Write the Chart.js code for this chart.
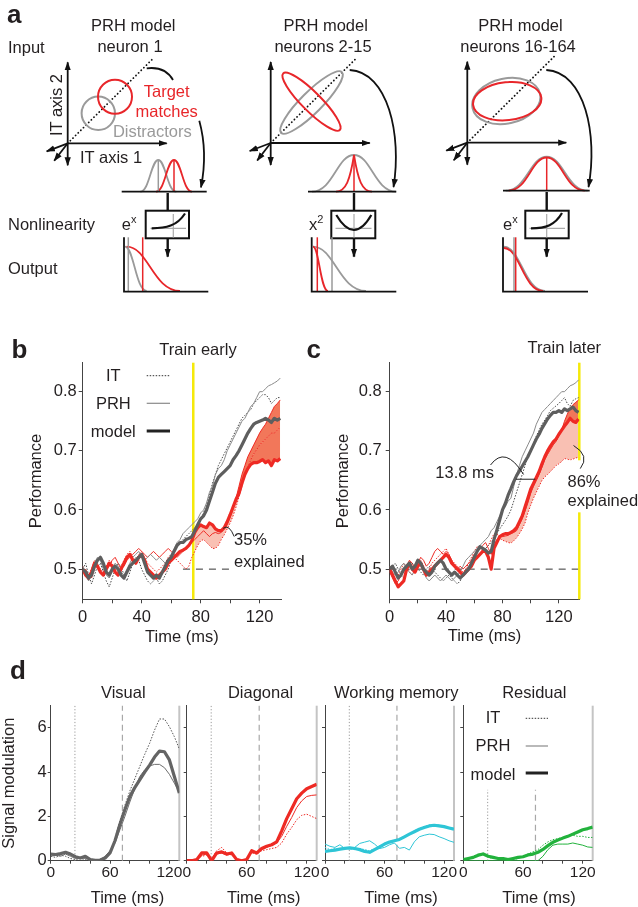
<!DOCTYPE html>
<html>
<head>
<meta charset="utf-8">
<script src="https://cdn.jsdelivr.net/npm/chart.js@4.4.1/dist/chart.umd.min.js"></script>
<style>
  html, body { margin: 0; padding: 0; background: #fff; }
  #page { position: relative; width: 638px; height: 907px; overflow: hidden; }
  #page canvas { position: absolute; }
  #art { position: absolute; left: 0; top: 0; pointer-events: none;
         font-family: "Liberation Sans", Arial, sans-serif; font-size: 16.5px; fill: #231f20; }
</style>
</head>
<body>
<div id="page">
  <canvas id="chartB" width="318" height="310" style="left:0;top:340px"></canvas>
  <canvas id="chartC" width="320" height="310" style="left:318px;top:340px"></canvas>
  <canvas id="chartVis" width="186" height="217" style="left:0;top:690px"></canvas>
  <canvas id="chartDiag" width="145" height="217" style="left:178px;top:690px"></canvas>
  <canvas id="chartWm" width="143" height="217" style="left:317px;top:690px"></canvas>
  <canvas id="chartRes" width="144" height="217" style="left:455px;top:690px"></canvas>

  <svg id="art" width="638" height="907" viewBox="0 0 638 907">
    <defs>
      <marker id="ah" viewBox="0 0 10 10" refX="9" refY="5" markerWidth="9" markerHeight="9"
              orient="auto-start-reverse" markerUnits="userSpaceOnUse">
        <path d="M0,1.5 L10,5 L0,8.5 z" fill="#111"/>
      </marker>
      <g id="axes3" stroke="#111" stroke-width="1.8" fill="none">
        <line x1="0" y1="22" x2="0" y2="-81" marker-start="url(#ah)" marker-end="url(#ah)"/>
        <line x1="0" y1="0" x2="99" y2="0" marker-end="url(#ah)"/>
        <line x1="0" y1="0" x2="-21" y2="8" marker-end="url(#ah)"/>
        <line x1="0" y1="0" x2="-13.5" y2="17.5" marker-end="url(#ah)"/>
      </g>
    </defs>

    <!-- panel letters -->
    <text x="7" y="23" font-size="26" font-weight="bold">a</text>
    <text x="11.5" y="358.3" font-size="26" font-weight="bold">b</text>
    <text x="306.5" y="358.3" font-size="26" font-weight="bold">c</text>
    <text x="10" y="679" font-size="26" font-weight="bold">d</text>

    <!-- panel a: row labels -->
    <text x="8" y="52.7">Input</text>
    <text x="8" y="230">Nonlinearity</text>
    <text x="8" y="274">Output</text>

    <!-- column 1 -->
    <text x="133.3" y="30.7" text-anchor="middle">PRH model</text>
    <text x="130" y="51.7" text-anchor="middle">neuron 1</text>
    <use href="#axes3" x="67.7" y="143.3"/>
    <line x1="67.7" y1="143.3" x2="153.3" y2="58.3" stroke="#111" stroke-width="1.8" stroke-dasharray="0.1 3.6" stroke-linecap="round"/>
    <circle cx="98.3" cy="113.3" r="16.7" fill="none" stroke="#9a9a9a" stroke-width="2"/>
    <circle cx="115" cy="96.7" r="17" fill="none" stroke="#e8262a" stroke-width="2"/>
    <text transform="translate(61.7,105) rotate(-90)" text-anchor="middle">IT axis 2</text>
    <text x="80" y="163.3">IT axis 1</text>
    <text x="166.7" y="96.5" text-anchor="middle" fill="#e8262a">Target</text>
    <text x="166.7" y="116.7" text-anchor="middle" fill="#e8262a">matches</text>
    <text x="152.3" y="136.7" text-anchor="middle" fill="#9a9a9a">Distractors</text>
    <path d="M146.7,68.3 Q165,66 173,80" fill="none" stroke="#111" stroke-width="1.8"/>
    <path d="M199.3,120.7 Q207.9,152 201,187.3" fill="none" stroke="#111" stroke-width="1.8" marker-end="url(#ah)"/>
    <path d="M140.3,191.7 C149.3,191.7 151.1,160 158.3,160 C165.5,160 167.3,191.7 176.3,191.7" fill="none" stroke="#9a9a9a" stroke-width="1.8"/>
    <path d="M156,191.7 C165,191.7 166.8,160 174,160 C181.2,160 183,191.7 192,191.7" fill="none" stroke="#e8262a" stroke-width="1.8"/>
    <line x1="158.3" y1="191.7" x2="158.3" y2="160" stroke="#9a9a9a" stroke-width="1.5"/>
    <line x1="174" y1="191.7" x2="174" y2="160" stroke="#e8262a" stroke-width="1.5"/>
    <line x1="121.7" y1="191.7" x2="206.7" y2="191.7" stroke="#111" stroke-width="1.8"/>
    <line x1="167.7" y1="193" x2="167.7" y2="210.7" stroke="#111" stroke-width="2.4"/>
    <rect x="145.7" y="210.7" width="43.3" height="27.6" fill="#fff" stroke="#111" stroke-width="2"/>
    <line x1="150.5" y1="228.3" x2="186" y2="228.3" stroke="#aaa" stroke-width="1.2"/>
    <line x1="173.3" y1="214" x2="173.3" y2="237.5" stroke="#aaa" stroke-width="1.2"/>
    <path d="M151.7,228.3 C166,228.3 177,226 185,213.5" fill="none" stroke="#111" stroke-width="2.2"/>
    <text x="121.7" y="230">e<tspan font-size="11" dy="-7">x</tspan></text>
    <line x1="167.7" y1="238.3" x2="167.7" y2="256.7" stroke="#111" stroke-width="2.4" marker-end="url(#ah)"/>
    <path d="M125,246.7 C133.7,246.7 135.9,291 146.7,291" fill="none" stroke="#9a9a9a" stroke-width="1.8"/>
    <path d="M126.7,246.7 C148,246.7 153.4,291 180,291" fill="none" stroke="#e8262a" stroke-width="1.8"/>
    <line x1="128.3" y1="291.7" x2="128.3" y2="237.3" stroke="#9a9a9a" stroke-width="1.5"/>
    <line x1="142.7" y1="291.7" x2="142.7" y2="237.3" stroke="#e8262a" stroke-width="1.5"/>
    <path d="M124,237.3 L124,291.7 L208.3,291.7" fill="none" stroke="#111" stroke-width="1.8"/>

    <!-- column 2 -->
    <text x="325.7" y="30.7" text-anchor="middle">PRH model</text>
    <text x="323" y="51.7" text-anchor="middle">neurons 2-15</text>
    <use href="#axes3" x="270.7" y="143"/>
    <line x1="270.7" y1="143" x2="356.3" y2="58.3" stroke="#111" stroke-width="1.8" stroke-dasharray="0.1 3.6" stroke-linecap="round"/>
    <ellipse cx="311.5" cy="102.5" rx="43" ry="10.5" transform="rotate(-45 311.5 102.5)" fill="none" stroke="#9a9a9a" stroke-width="2"/>
    <ellipse cx="311.5" cy="101.7" rx="40" ry="9.5" transform="rotate(45 311.5 101.7)" fill="none" stroke="#e8262a" stroke-width="2"/>
    <path d="M349.7,70 C388,72 402,135 393.5,187" fill="none" stroke="#111" stroke-width="1.8" marker-end="url(#ah)"/>
    <path d="M312,191.7 C333,191.7 337.2,155 354,155 C370.8,155 375,191.7 396,191.7" fill="none" stroke="#9a9a9a" stroke-width="1.8"/>
    <path d="M336,191.7 C346,191.2 350,180 354,155 C358,180 362,191.2 372,191.7" fill="none" stroke="#e8262a" stroke-width="1.8"/>
    <line x1="354" y1="191.7" x2="354" y2="155" stroke="#e8262a" stroke-width="1.5"/>
    <line x1="308" y1="191.7" x2="396.3" y2="191.7" stroke="#111" stroke-width="1.8"/>
    <line x1="354" y1="193" x2="354" y2="210.7" stroke="#111" stroke-width="2.4"/>
    <rect x="331.3" y="210.7" width="44" height="27.6" fill="#fff" stroke="#111" stroke-width="2"/>
    <line x1="335.5" y1="228.3" x2="371.5" y2="228.3" stroke="#aaa" stroke-width="1.2"/>
    <line x1="354" y1="214" x2="354" y2="237.5" stroke="#aaa" stroke-width="1.2"/>
    <path d="M336.3,215 Q354,245 371.3,215" fill="none" stroke="#111" stroke-width="2.2"/>
    <text x="309" y="230">x<tspan font-size="11" dy="-7">2</tspan></text>
    <line x1="354" y1="238.3" x2="354" y2="256.7" stroke="#111" stroke-width="2.4" marker-end="url(#ah)"/>
    <path d="M313,246.7 C334.2,246.7 339.5,291 366,291" fill="none" stroke="#9a9a9a" stroke-width="1.8"/>
    <path d="M313,246.7 C319,246.7 320.5,291 328,291" fill="none" stroke="#e8262a" stroke-width="1.8"/>
    <line x1="332" y1="291.7" x2="332" y2="237.3" stroke="#9a9a9a" stroke-width="1.5"/>
    <line x1="317.3" y1="291.7" x2="317.3" y2="237.3" stroke="#e8262a" stroke-width="1.5"/>
    <path d="M311.7,237.3 L311.7,291.7 L396.3,291.7" fill="none" stroke="#111" stroke-width="1.8"/>

    <!-- column 3 -->
    <text x="520.5" y="30.7" text-anchor="middle">PRH model</text>
    <text x="518" y="51.7" text-anchor="middle">neurons 16-164</text>
    <use href="#axes3" x="467.3" y="142.7"/>
    <line x1="467.3" y1="142.7" x2="554" y2="56.7" stroke="#111" stroke-width="1.8" stroke-dasharray="0.1 3.6" stroke-linecap="round"/>
    <ellipse cx="506.3" cy="101" rx="34.5" ry="22.5" transform="rotate(-12 506.3 101)" fill="none" stroke="#9a9a9a" stroke-width="2"/>
    <ellipse cx="507.2" cy="101.2" rx="34.3" ry="19" transform="rotate(-6 507.2 101.2)" fill="none" stroke="#e8262a" stroke-width="2"/>
    <path d="M546.3,70 C585,72 598,135 588.5,187" fill="none" stroke="#111" stroke-width="1.8" marker-end="url(#ah)"/>
    <path d="M505.7,190.7 C526.2,190.7 530.3,156.7 546.7,156.7 C563.1,156.7 567.2,190.7 587.7,190.7" fill="none" stroke="#9a9a9a" stroke-width="1.8"/>
    <path d="M508.7,190.7 C527.7,190.7 531.5,157.5 546.7,157.5 C561.9,157.5 565.7,190.7 584.7,190.7" fill="none" stroke="#e8262a" stroke-width="1.8"/>
    <line x1="546.7" y1="190.7" x2="546.7" y2="157.5" stroke="#e8262a" stroke-width="1.5"/>
    <line x1="503" y1="190.7" x2="589.7" y2="190.7" stroke="#111" stroke-width="1.8"/>
    <line x1="546.7" y1="192" x2="546.7" y2="210.7" stroke="#111" stroke-width="2.4"/>
    <rect x="525.3" y="210.7" width="43.4" height="27.6" fill="#fff" stroke="#111" stroke-width="2"/>
    <line x1="529.5" y1="228.3" x2="565" y2="228.3" stroke="#aaa" stroke-width="1.2"/>
    <line x1="546.7" y1="214" x2="546.7" y2="237.5" stroke="#aaa" stroke-width="1.2"/>
    <path d="M531,228.3 C546,228.3 555,225 562,213" fill="none" stroke="#111" stroke-width="2.2"/>
    <text x="503" y="230">e<tspan font-size="11" dy="-7">x</tspan></text>
    <line x1="546.7" y1="238.3" x2="546.7" y2="256.7" stroke="#111" stroke-width="2.4" marker-end="url(#ah)"/>
    <path d="M504,246.7 C520.4,246.7 524.5,291 545,291" fill="none" stroke="#9a9a9a" stroke-width="1.8"/>
    <path d="M504,248 C519.6,248 523.5,291 543,291" fill="none" stroke="#e8262a" stroke-width="1.8"/>
    <line x1="514" y1="291.7" x2="514" y2="237.3" stroke="#9a9a9a" stroke-width="1.5"/>
    <line x1="515.7" y1="291.7" x2="515.7" y2="237.3" stroke="#e8262a" stroke-width="1.5"/>
    <path d="M503,237.3 L503,291.7 L588,291.7" fill="none" stroke="#111" stroke-width="1.8"/>

    <!-- chart titles -->
    <text x="198" y="354.5" text-anchor="middle">Train early</text>
    <text x="564.3" y="353.3" text-anchor="middle">Train later</text>
    <text x="123.3" y="697.7" text-anchor="middle">Visual</text>
    <text x="260.5" y="697.7" text-anchor="middle">Diagonal</text>
    <text x="396.3" y="697.7" text-anchor="middle">Working memory</text>
    <text x="534.3" y="697.7" text-anchor="middle">Residual</text>
    <text x="127.5" y="903.3" text-anchor="middle">Time (ms)</text>
    <text x="263.8" y="903.3" text-anchor="middle">Time (ms)</text>
    <text x="401" y="903.3" text-anchor="middle">Time (ms)</text>
    <text x="539" y="903.3" text-anchor="middle">Time (ms)</text>
  </svg>
</div>

<script>
"use strict";

// ---------- panels b and c: decoding performance over time ----------
const timeBC = [0, 2, 4, 6, 8, 10, 12, 14, 16, 18, 20, 22, 24, 26, 28, 30, 32, 34, 36, 38,
  40, 42, 44, 46, 48, 50, 52, 54, 56, 58, 60, 62, 64, 66, 68, 70, 72, 74, 76, 78,
  80, 82, 84, 86, 88, 90, 92, 94, 96, 98, 100, 102, 104, 106, 108, 110, 112, 114, 116, 118,
  120, 122, 124, 126, 128, 130, 132, 134];

// train early (b)
const modelB = [0.500, 0.495, 0.485, 0.490, 0.505, 0.515, 0.520, 0.510, 0.495, 0.490,
  0.500, 0.505, 0.500, 0.490, 0.485, 0.495, 0.505, 0.510, 0.515, 0.520,
  0.525, 0.510, 0.495, 0.490, 0.485, 0.490, 0.485, 0.495, 0.505, 0.515,
  0.520, 0.530, 0.540, 0.545, 0.545, 0.550, 0.552, 0.555, 0.565, 0.575,
  0.585, 0.590, 0.600, 0.615, 0.630, 0.645, 0.655, 0.660, 0.665, 0.670,
  0.675, 0.685, 0.692, 0.700, 0.710, 0.720, 0.730, 0.738, 0.745, 0.748,
  0.750, 0.752, 0.755, 0.752, 0.748, 0.755, 0.752, 0.755];
const prhB = [0.505, 0.490, 0.480, 0.495, 0.510, 0.520, 0.515, 0.500, 0.490, 0.485,
  0.495, 0.510, 0.505, 0.495, 0.490, 0.500, 0.510, 0.520, 0.525, 0.530,
  0.520, 0.515, 0.520, 0.525, 0.520, 0.515, 0.520, 0.515, 0.510, 0.515,
  0.525, 0.535, 0.545, 0.550, 0.560, 0.565, 0.570, 0.575, 0.580, 0.585,
  0.595, 0.600, 0.612, 0.630, 0.640, 0.660, 0.670, 0.675, 0.685, 0.700,
  0.710, 0.720, 0.730, 0.740, 0.750, 0.755, 0.765, 0.775, 0.780, 0.790,
  0.800, 0.800, 0.805, 0.810, 0.812, 0.815, 0.818, 0.823];
const itB = [0.500, 0.510, 0.490, 0.475, 0.490, 0.505, 0.510, 0.495, 0.480, 0.470,
  0.485, 0.500, 0.510, 0.505, 0.490, 0.480, 0.495, 0.510, 0.520, 0.515,
  0.500, 0.490, 0.480, 0.475, 0.480, 0.485, 0.475, 0.480, 0.490, 0.500,
  0.515, 0.530, 0.540, 0.545, 0.550, 0.555, 0.560, 0.565, 0.570, 0.575,
  0.585, 0.595, 0.610, 0.625, 0.645, 0.660, 0.675, 0.685, 0.695, 0.705,
  0.715, 0.725, 0.735, 0.745, 0.755, 0.760, 0.765, 0.770, 0.780, 0.785,
  0.790, 0.795, 0.795, 0.790, 0.780, 0.785, 0.790, 0.790];
const redModelB = [0.500, 0.490, 0.485, 0.495, 0.510, 0.505, 0.495, 0.490, 0.500, 0.510,
  0.505, 0.495, 0.490, 0.500, 0.510, 0.520, 0.525, 0.515, 0.510, 0.520,
  0.525, 0.515, 0.500, 0.495, 0.490, 0.485, 0.490, 0.495, 0.500, 0.510,
  0.515, 0.520, 0.525, 0.530, 0.532, 0.535, 0.540, 0.548, 0.562, 0.570,
  0.575, 0.572, 0.570, 0.578, 0.575, 0.568, 0.565, 0.565, 0.570, 0.580,
  0.592, 0.605, 0.618, 0.628, 0.645, 0.660, 0.670, 0.677, 0.680, 0.680,
  0.682, 0.685, 0.680, 0.683, 0.675, 0.685, 0.683, 0.687];
const redItB = [0.505, 0.495, 0.490, 0.500, 0.515, 0.510, 0.500, 0.495, 0.505, 0.515,
  0.510, 0.500, 0.495, 0.505, 0.515, 0.525, 0.530, 0.520, 0.515, 0.525,
  0.530, 0.520, 0.510, 0.505, 0.500, 0.495, 0.500, 0.505, 0.510, 0.520,
  0.525, 0.520, 0.515, 0.510, 0.505, 0.500, 0.505, 0.520, 0.530, 0.540,
  0.548, 0.550, 0.545, 0.540, 0.535, 0.535, 0.540, 0.550, 0.558, 0.568,
  0.578, 0.590, 0.605, 0.622, 0.640, 0.658, 0.672, 0.685, 0.695, 0.702,
  0.710, 0.715, 0.720, 0.725, 0.730, 0.730, 0.735, 0.740];
const redPrhB = [0.495, 0.500, 0.490, 0.485, 0.500, 0.515, 0.520, 0.510, 0.500, 0.505,
  0.515, 0.520, 0.510, 0.500, 0.505, 0.515, 0.520, 0.525, 0.530, 0.535,
  0.530, 0.525, 0.520, 0.525, 0.530, 0.525, 0.520, 0.525, 0.530, 0.535,
  0.530, 0.525, 0.520, 0.525, 0.530, 0.535, 0.540, 0.545, 0.550, 0.555,
  0.560, 0.565, 0.560, 0.555, 0.560, 0.562, 0.560, 0.562, 0.568, 0.575,
  0.588, 0.602, 0.620, 0.640, 0.660, 0.675, 0.690, 0.700, 0.710, 0.720,
  0.730, 0.738, 0.745, 0.755, 0.765, 0.775, 0.780, 0.786];

// train later (c)
const modelC = [0.500, 0.505, 0.495, 0.485, 0.490, 0.500, 0.505, 0.510, 0.500, 0.505,
  0.515, 0.510, 0.500, 0.495, 0.490, 0.495, 0.505, 0.510, 0.515, 0.510,
  0.500, 0.495, 0.490, 0.495, 0.490, 0.485, 0.490, 0.495, 0.500, 0.510,
  0.520, 0.530, 0.538, 0.535, 0.532, 0.527, 0.530, 0.550, 0.566, 0.583,
  0.600, 0.611, 0.625, 0.636, 0.648, 0.658, 0.666, 0.674, 0.682, 0.690,
  0.700, 0.710, 0.720, 0.728, 0.738, 0.746, 0.754, 0.760, 0.765, 0.765,
  0.768, 0.765, 0.771, 0.768, 0.771, 0.774, 0.768, 0.765];
const prhC = [0.505, 0.495, 0.490, 0.495, 0.505, 0.510, 0.500, 0.495, 0.490, 0.500,
  0.510, 0.505, 0.495, 0.485, 0.480, 0.485, 0.490, 0.485, 0.480, 0.485,
  0.490, 0.485, 0.480, 0.485, 0.490, 0.495, 0.505, 0.515, 0.520, 0.525,
  0.530, 0.535, 0.540, 0.545, 0.550, 0.555, 0.565, 0.570, 0.580, 0.590,
  0.600, 0.605, 0.615, 0.620, 0.640, 0.660, 0.675, 0.690, 0.700, 0.710,
  0.720, 0.730, 0.745, 0.755, 0.765, 0.770, 0.775, 0.780, 0.785, 0.790,
  0.795, 0.800, 0.800, 0.805, 0.810, 0.812, 0.815, 0.820];
const itC = [0.495, 0.505, 0.510, 0.500, 0.490, 0.485, 0.495, 0.505, 0.510, 0.505,
  0.500, 0.495, 0.490, 0.500, 0.505, 0.500, 0.495, 0.490, 0.485, 0.480,
  0.485, 0.490, 0.485, 0.480, 0.475, 0.480, 0.490, 0.500, 0.505, 0.510,
  0.515, 0.520, 0.525, 0.530, 0.535, 0.540, 0.545, 0.552, 0.560, 0.568,
  0.575, 0.582, 0.590, 0.600, 0.615, 0.630, 0.645, 0.660, 0.675, 0.690,
  0.700, 0.712, 0.725, 0.735, 0.745, 0.752, 0.760, 0.768, 0.772, 0.776,
  0.780, 0.785, 0.790, 0.780, 0.775, 0.785, 0.788, 0.790];
const redModelC = [0.500, 0.490, 0.480, 0.470, 0.475, 0.480, 0.500, 0.510, 0.500, 0.495,
  0.505, 0.510, 0.500, 0.490, 0.495, 0.500, 0.505, 0.510, 0.515, 0.520,
  0.525, 0.520, 0.510, 0.505, 0.500, 0.495, 0.490, 0.495, 0.500, 0.505,
  0.515, 0.520, 0.525, 0.530, 0.530, 0.520, 0.500, 0.535, 0.545, 0.555,
  0.558, 0.560, 0.560, 0.562, 0.565, 0.570, 0.580, 0.590, 0.605, 0.620,
  0.635, 0.645, 0.655, 0.665, 0.678, 0.690, 0.700, 0.708, 0.715, 0.720,
  0.728, 0.735, 0.742, 0.748, 0.755, 0.750, 0.748, 0.754];
const redItC = [0.505, 0.500, 0.495, 0.490, 0.500, 0.510, 0.505, 0.495, 0.490, 0.500,
  0.510, 0.515, 0.505, 0.495, 0.500, 0.510, 0.515, 0.520, 0.525, 0.530,
  0.535, 0.525, 0.515, 0.510, 0.505, 0.500, 0.495, 0.500, 0.510, 0.520,
  0.530, 0.538, 0.535, 0.530, 0.535, 0.540, 0.550, 0.560, 0.560, 0.552,
  0.549, 0.547, 0.545, 0.544, 0.548, 0.553, 0.560, 0.568, 0.578, 0.595,
  0.608, 0.620, 0.630, 0.640, 0.650, 0.656, 0.660, 0.665, 0.670, 0.675,
  0.678, 0.682, 0.687, 0.686, 0.684, 0.686, 0.688, 0.689];
const redPrhC = [0.495, 0.485, 0.475, 0.480, 0.490, 0.495, 0.505, 0.515, 0.510, 0.500,
  0.510, 0.520, 0.515, 0.505, 0.510, 0.520, 0.530, 0.535, 0.530, 0.525,
  0.530, 0.525, 0.515, 0.505, 0.500, 0.505, 0.500, 0.505, 0.510, 0.515,
  0.525, 0.530, 0.535, 0.540, 0.545, 0.535, 0.525, 0.540, 0.550, 0.555,
  0.555, 0.556, 0.557, 0.560, 0.562, 0.565, 0.575, 0.585, 0.598, 0.612,
  0.628, 0.640, 0.650, 0.660, 0.672, 0.685, 0.694, 0.702, 0.710, 0.716,
  0.725, 0.735, 0.750, 0.762, 0.772, 0.778, 0.782, 0.786];

const perfTicks = [0.5, 0.6, 0.7, 0.8];
const timeTicksBC = [0, 20, 40, 60, 80, 100, 120];
const timeLabelsBC = [0, 40, 80, 120];
const trainTimeB = 75;
const trainTimeC = 134.5;
const fillFromB = 75;
const fillFromC = 76;
const chance = 0.5;
const chanceFromB = 68;
const seriesNames = ["IT", "PRH", "model"];

// ---------- panel d: signal modulation ----------
const timeD = [0, 5, 10, 15, 20, 25, 30, 35, 40, 45, 50, 55, 60, 65, 70, 75, 80, 85, 90, 95,
  100, 105, 110, 115, 120, 125, 130];
const visModel = [0.30, 0.28, 0.32, 0.38, 0.30, 0.18, 0.12, 0.20, 0.05, 0.02, 0.03, 0.12, 0.35, 0.90,
  1.65, 2.30, 2.90, 3.30, 3.65, 4.00, 4.32, 4.68, 4.95, 4.92, 4.55, 3.80, 3.05];
const visIt = [0.20, 0.15, 0.25, 0.20, 0.10, 0.05, 0.10, 0.05, 0.00, 0.05, 0.00, 0.10, 0.40, 1.00,
  1.80, 2.50, 3.15, 3.70, 4.25, 4.80, 5.30, 5.90, 6.40, 6.40, 6.05, 5.60, 5.05];
const visPrh = [0.20, 0.25, 0.20, 0.30, 0.20, 0.10, 0.15, 0.10, 0.05, 0.00, 0.05, 0.20, 0.45, 0.80,
  1.40, 2.00, 2.65, 3.25, 3.80, 4.10, 4.28, 4.35, 4.35, 4.20, 3.90, 3.50, 3.10];
const diagModel = [0.00, 0.00, 0.05, 0.35, 0.35, 0.00, 0.35, 0.40, 0.30, 0.35, 0.05, 0.00, 0.05, 0.45,
  0.35, 0.55, 0.65, 0.72, 0.85, 1.35, 1.90, 2.35, 2.80, 3.05, 3.25, 3.35, 3.45];
const diagPrh = [0.00, 0.00, 0.00, 0.25, 0.30, 0.05, 0.30, 0.35, 0.25, 0.30, 0.05, 0.00, 0.05, 0.40,
  0.35, 0.50, 0.60, 0.70, 0.80, 1.10, 1.55, 1.95, 2.40, 2.70, 2.90, 2.95, 2.97];
const diagIt = [0.00, 0.00, 0.00, 0.20, 0.25, 0.10, 0.45, 0.60, 0.35, 0.25, 0.10, 0.00, 0.10, 0.35,
  0.30, 0.45, 0.50, 0.55, 0.60, 0.80, 1.20, 1.50, 1.85, 2.05, 2.10, 2.00, 1.90];
const wmModel = [0.42, 0.45, 0.48, 0.52, 0.56, 0.58, 0.55, 0.50, 0.42, 0.38, 0.50, 0.62, 0.75, 0.84,
  0.90, 0.96, 1.08, 1.20, 1.31, 1.42, 1.50, 1.57, 1.60, 1.57, 1.54, 1.48, 1.42];
const wmPrh = [0.75, 0.65, 0.60, 0.72, 0.55, 0.55, 0.60, 0.78, 0.84, 0.90, 0.75, 0.55, 0.60, 0.72,
  0.80, 0.56, 0.60, 0.48, 0.85, 1.08, 1.15, 1.20, 1.18, 1.08, 1.00, 0.90, 0.83];
const wmIt = [0.60, 0.50, 0.55, 0.50, 0.60, 0.55, 0.50, 0.55, 0.50, 0.45, 0.55, 0.65, 0.78, 0.86,
  0.92, 1.00, 1.10, 1.22, 1.35, 1.45, 1.55, 1.60, 1.63, 1.60, 1.55, 1.50, 1.45];
const resModel = [0.05, 0.10, 0.15, 0.25, 0.30, 0.20, 0.15, 0.10, 0.10, 0.05, 0.10, 0.15, 0.18, 0.26,
  0.30, 0.38, 0.51, 0.68, 0.83, 0.93, 1.02, 1.10, 1.20, 1.30, 1.40, 1.45, 1.52];
const resIt = [0.10, 0.05, 0.20, 0.30, 0.35, 0.15, 0.10, 0.15, 0.05, 0.10, 0.05, 0.10, 0.20, 0.30,
  0.40, 0.50, 0.70, 0.85, 0.95, 1.00, 1.05, 1.10, 1.15, 1.10, 1.10, 1.05, 1.05];
const resPrh = [0.00, 0.00, 0.00, 0.00, 0.00, 0.00, 0.00, 0.00, 0.00, 0.00, 0.00, 0.00, 0.00, 0.00,
  0.00, 0.00, 0.20, 0.50, 0.70, 0.75, 0.75, 0.75, 0.80, 0.75, 0.70, 0.62, 0.60];

const sigTicks = [0, 1, 2, 3, 4, 5, 6, 7];
const sigLabels = [0, 2, 4, 6];
const timeTicksD = [0, 20, 40, 60, 80, 100, 120];
const timeLabelsD = [0, 60, 120];
const sampleOnD = 24.5;
const trainEndD = 72.5;
const timeEndD = 130;

// ---------- styling ----------
const INK = "#231f20";
const AXIS = "#444";
const GRAY_THICK = "#5e5e5e";
const GRAY_THIN = "#8a8a8a";
const GRAY_DOT = "#4a4a4a";
const RED = "#ee2a24";
const CYAN = "#2ec5d6";
const GREEN = "#22b23c";
const YELLOW = "#f5e90a";
const PINK = "#f9c0b3";
const SALMON = "#f2775a";
const NONE = "rgba(0,0,0,0)";

Chart.defaults.font.family = '"Liberation Sans", Arial, sans-serif';
Chart.defaults.font.size = 16.5;
Chart.defaults.color = INK;

function series(times, values, color, kind, order) {
  const look = {
    thick: { borderWidth: 3.2 },
    thin: { borderWidth: 1 },
    dot: { borderWidth: 1, borderDash: [1.5, 1.5] },
  }[kind];
  return Object.assign({
    data: times.map((t, i) => ({ x: t, y: values[i] })),
    borderColor: color,
    pointRadius: 0,
    tension: 0,
    fill: false,
    borderJoinStyle: "round",
    order: order,
  }, look);
}

function band(times, values, from, fill) {
  const data = [];
  times.forEach((t, i) => {
    if (t >= from) data.push({ x: t, y: values[i] });
  });
  return { data, borderColor: NONE, borderWidth: 1, pointRadius: 0, tension: 0, fill, order: 50 };
}

function rule(points, color, width, dash, order) {
  return {
    data: points.map((p) => ({ x: p[0], y: p[1] })),
    borderColor: color,
    borderWidth: width,
    borderDash: dash || [],
    pointRadius: 0,
    fill: false,
    clip: false,
    order: order,
  };
}

// annotations (text, white boxes, connector curves) in data coordinates
const notesPlugin = {
  id: "notes",
  afterDatasetsDraw(chart, args, opts) {
    const { ctx } = chart;
    const sx = chart.scales.x;
    const sy = chart.scales.y;
    const px = (p) => [sx.getPixelForValue(p[0]), sy.getPixelForValue(p[1])];
    ctx.save();
    (opts.boxes || []).forEach((b) => {
      const a = px([b[0], b[3]]);
      const c = px([b[2], b[1]]);
      ctx.fillStyle = "#fff";
      ctx.fillRect(a[0], a[1], c[0] - a[0], c[1] - a[1]);
    });
    ctx.strokeStyle = "#222";
    ctx.lineWidth = 1;
    (opts.curves || []).forEach((c) => {
      const p0 = px(c[0]);
      ctx.beginPath();
      ctx.moveTo(p0[0], p0[1]);
      if (c.length === 3) {
        const p1 = px(c[1]);
        const p2 = px(c[2]);
        ctx.quadraticCurveTo(p1[0], p1[1], p2[0], p2[1]);
      } else {
        const p1 = px(c[1]);
        ctx.lineTo(p1[0], p1[1]);
      }
      ctx.stroke();
    });
    ctx.fillStyle = INK;
    ctx.font = '16.5px "Liberation Sans", Arial, sans-serif';
    ctx.textBaseline = "middle";
    ctx.textAlign = "left";
    (opts.texts || []).forEach((t) => {
      const p = px([t.x, t.y]);
      ctx.fillText(t.text, p[0], p[1]);
    });
    ctx.restore();
  },
};

// side key "IT ..... / PRH ---- / model ====" in canvas pixels
const keyPlugin = {
  id: "key",
  afterDraw(chart, args, opts) {
    if (!opts.rows) return;
    const { ctx } = chart;
    ctx.save();
    ctx.font = '16.5px "Liberation Sans", Arial, sans-serif';
    ctx.textAlign = "center";
    ctx.textBaseline = "middle";
    ctx.fillStyle = INK;
    opts.rows.forEach((r, i) => {
      ctx.fillText(seriesNames[i], opts.textX, r.y);
      ctx.beginPath();
      ctx.setLineDash(r.dash || []);
      ctx.lineWidth = r.width;
      ctx.strokeStyle = r.color;
      ctx.moveTo(opts.x0, r.ly);
      ctx.lineTo(opts.x1, r.ly);
      ctx.stroke();
    });
    ctx.restore();
  },
};

function perfChart(id, cfg) {
  const yMin = 0.449;
  const yMax = 0.849;
  const datasets = [
    band(timeBC, cfg.redIt, cfg.fillFrom, false),
    band(timeBC, cfg.redModel, cfg.fillFrom, { target: 0, above: PINK, below: NONE }),
    band(timeBC, cfg.redPrh, cfg.fillFrom, { target: 1, above: SALMON, below: NONE }),
    rule([[cfg.train, yMin], [cfg.train, yMax]], YELLOW, 2.5, null, 40),
    rule([[cfg.chanceFrom, chance], [cfg.xMax, chance]], "#333", 1, [7, 6], 41),
    series(timeBC, cfg.redIt, RED, "dot", 6),
    series(timeBC, cfg.redPrh, RED, "thin", 5),
    series(timeBC, cfg.it, GRAY_DOT, "dot", 4),
    series(timeBC, cfg.prh, GRAY_THIN, "thin", 3),
    series(timeBC, cfg.redModel, RED, "thick", 2),
    series(timeBC, cfg.model, GRAY_THICK, "thick", 1),
  ];
  return new Chart(document.getElementById(id), {
    type: "line",
    data: { datasets },
    plugins: [notesPlugin, keyPlugin],
    options: {
      responsive: false,
      animation: false,
      devicePixelRatio: 1,
      events: [],
      layout: { padding: { left: 0, right: cfg.padRight, top: cfg.padTop, bottom: 0 } },
      plugins: {
        legend: { display: false },
        tooltip: { enabled: false },
        filler: { drawTime: "beforeDatasetsDraw" },
        notes: cfg.notes,
        key: cfg.key || {},
      },
      scales: {
        x: {
          type: "linear",
          min: 0,
          max: cfg.xMax,
          afterBuildTicks: (s) => { s.ticks = timeTicksBC.map((v) => ({ value: v })); },
          afterFit: (s) => { s.height = cfg.xAxisH; },
          grid: { drawOnChartArea: false, tickLength: 4, color: AXIS },
          border: { color: AXIS, width: 1 },
          ticks: {
            autoSkip: false, maxRotation: 0, padding: 4, color: INK,
            callback: (v) => (timeLabelsBC.includes(v) ? String(v) : ""),
          },
          title: { display: true, text: "Time (ms)", color: INK, padding: { top: 0, bottom: cfg.xTitlePad } },
        },
        y: {
          type: "linear",
          min: yMin,
          max: yMax,
          afterBuildTicks: (s) => { s.ticks = perfTicks.map((v) => ({ value: v })); },
          afterFit: (s) => { s.width = cfg.yAxisW; },
          grid: { drawOnChartArea: false, tickLength: 4, color: AXIS },
          border: { color: AXIS, width: 1 },
          ticks: { padding: cfg.yTickPad, color: INK, callback: (v) => v.toFixed(1) },
          title: { display: true, text: "Performance", color: INK, padding: { top: cfg.yTitlePad, bottom: 0 } },
        },
      },
    },
  });
}

perfChart("chartB", {
  model: modelB, prh: prhB, it: itB,
  redModel: redModelB, redIt: redItB, redPrh: redPrhB,
  train: trainTimeB, fillFrom: fillFromB, chanceFrom: chanceFromB,
  xMax: 134.5, padRight: 37, padTop: 22.7, xAxisH: 50.7, yAxisW: 82.7,
  xTitlePad: 2.8, yTitlePad: 26.8, yTickPad: 2,
  notes: {
    boxes: [[102.3, 0.489, 160, 0.528]],
    curves: [[[95.3, 0.569], [99.2, 0.577], [102.8, 0.555]]],
    texts: [{ x: 102.6, y: 0.548, text: "35%" }, { x: 102.6, y: 0.511, text: "explained" }],
  },
  key: {
    textX: 113.3, x0: 146.7, x1: 170,
    rows: [
      { y: 36.7, ly: 35.7, color: "#333", width: 1, dash: [1.5, 1.5] },
      { y: 64.3, ly: 63.3, color: GRAY_THIN, width: 1.2 },
      { y: 92.3, ly: 91, color: "#222", width: 3 },
    ],
  },
});

perfChart("chartC", {
  model: modelC, prh: prhC, it: itC,
  redModel: redModelC, redIt: redItC, redPrh: redPrhC,
  train: trainTimeC, fillFrom: fillFromC, chanceFrom: 0,
  xMax: 134.5, padRight: 58.7, padTop: 22.7, xAxisH: 50.7, yAxisW: 71.7,
  xTitlePad: 4, yTitlePad: 15.1, yTickPad: 4,
  notes: {
    boxes: [[125.8, 0.596, 160, 0.684]],
    curves: [
      [[71.5, 0.676], [82, 0.71], [95, 0.66]],
      [[89.5, 0.652], [103.3, 0.652]],
      [[130.4, 0.709], [142.4, 0.692], [135.2, 0.670]],
    ],
    texts: [
      { x: 32.4, y: 0.662, text: "13.8 ms" },
      { x: 126.1, y: 0.646, text: "86%" },
      { x: 126.1, y: 0.615, text: "explained" },
    ],
  },
});

function signalChart(id, p) {
  const datasets = [
    rule([[sampleOnD, 0], [sampleOnD, p.markTop]], "#9a9a9a", 1, [1.2, 2], 40),
    rule([[trainEndD, 0], [trainEndD, p.markTop]], "#a8a8a8", 1.2, [6, 4], 41),
    rule([[timeEndD, 0], [timeEndD, 7]], "#c4c4c4", 2, null, 42),
    series(timeD, p.it, p.dotColor || p.color, "dot", 3),
    series(timeD, p.prh, p.thinColor || p.color, "thin", 2),
    series(timeD, p.model, p.color, "thick", 1),
  ];
  return new Chart(document.getElementById(id), {
    type: "line",
    data: { datasets },
    plugins: [keyPlugin],
    options: {
      responsive: false,
      animation: false,
      devicePixelRatio: 1,
      events: [],
      layout: { padding: { left: 0, right: p.padRight, top: 15.7, bottom: 0 } },
      plugins: {
        legend: { display: false },
        tooltip: { enabled: false },
        key: p.key || {},
      },
      scales: {
        x: {
          type: "linear",
          min: 0,
          max: timeEndD,
          afterBuildTicks: (s) => { s.ticks = timeTicksD.map((v) => ({ value: v })); },
          afterFit: (s) => { s.height = 46.3; },
          grid: { drawOnChartArea: false, tickLength: 3, color: AXIS },
          border: { color: AXIS, width: 1 },
          ticks: {
            autoSkip: false, maxRotation: 0, padding: 0, color: INK,
            font: { size: 15.5 },
            callback: (v) => (timeLabelsD.includes(v) ? String(v) : ""),
          },
        },
        y: {
          type: "linear",
          min: 0,
          max: 7,
          afterBuildTicks: (s) => { s.ticks = sigTicks.map((v) => ({ value: v })); },
          afterFit: (s) => { s.width = p.yAxisW; },
          grid: { drawOnChartArea: false, tickLength: 3, color: AXIS },
          border: { color: AXIS, width: 1 },
          ticks: {
            padding: 1, color: INK,
            callback: (v) => (p.showY && sigLabels.includes(v) ? String(v) : ""),
          },
          title: { display: p.showY, text: "Signal modulation", color: INK, padding: { top: 0, bottom: 0 } },
        },
      },
    },
  });
}

signalChart("chartVis", {
  model: visModel, prh: visPrh, it: visIt, color: "#646464", thinColor: "#6e6e6e", dotColor: "#555",
  markTop: 7, yAxisW: 50.7, padRight: 6.7, showY: true,
});
signalChart("chartDiag", {
  model: diagModel, prh: diagPrh, it: diagIt, color: RED,
  markTop: 7, yAxisW: 8.7, padRight: 6.3, showY: false,
});
signalChart("chartWm", {
  model: wmModel, prh: wmPrh, it: wmIt, color: CYAN,
  markTop: 7, yAxisW: 8, padRight: 6, showY: false,
});
signalChart("chartRes", {
  model: resModel, prh: resPrh, it: resIt, color: GREEN,
  markTop: 3.2, yAxisW: 8.3, padRight: 6.3, showY: false,
  key: {
    textX: 38, x0: 70.7, x1: 93,
    rows: [
      { y: 28.3, ly: 28.3, color: "#333", width: 1, dash: [1.5, 1.5] },
      { y: 56.7, ly: 56, color: GRAY_THIN, width: 1.2 },
      { y: 85, ly: 83, color: "#222", width: 3 },
    ],
  },
});
</script>
</body>
</html>
